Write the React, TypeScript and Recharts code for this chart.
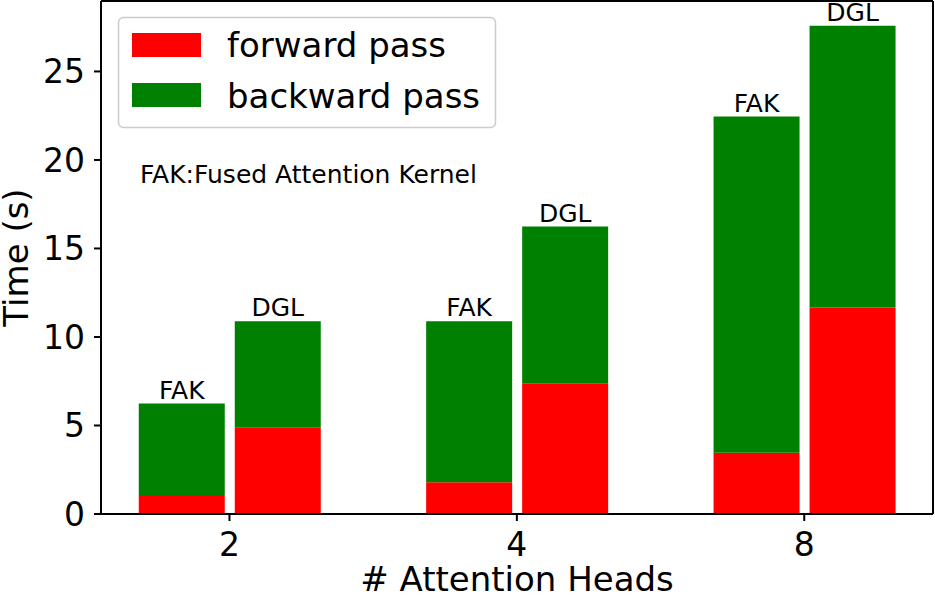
import React from "react";
import {
  BarChart,
  Bar,
  XAxis,
  YAxis,
  LabelList,
  ReferenceLine,
} from "recharts";

const heads = ["2", "4", "8"];
const fakForward = [1.02, 1.8, 3.46];
const fakBackward = [5.22, 9.09, 18.99];
const dglForward = [4.87, 7.39, 11.66];
const dglBackward = [6.02, 8.85, 15.92];
const yTicks = [0, 5, 10, 15, 20, 25];

const FONT = "'DejaVu Sans', sans-serif";
const RED = "#ff0000";
const GREEN = "#008000";
const X_DOMAIN: [number, number] = [-0.447, 2.448];
const Y_DOMAIN: [number, number] = [0, 28.98];

const data = heads.map((h, i) => ({
  x: i,
  heads: h,
  fakForward: fakForward[i],
  fakBackward: fakBackward[i],
  dglForward: dglForward[i],
  dglBackward: dglBackward[i],
}));

const W = 935;
const H = 599;

export default function App() {
  return (
    <div style={{ position: "absolute", left: 0, top: 0, width: W, height: H, background: "#fff" }}>
      <BarChart
        width={W}
        height={H}
        data={data}
        margin={{ top: 1, right: 2, left: 0, bottom: 0 }}
        barSize={86}
        barGap={10}
      >
        <XAxis
          dataKey="x"
          type="number"
          domain={X_DOMAIN}
          ticks={[0, 1, 2]}
          tickCount={3}
          allowDataOverflow
          tickFormatter={(v: number) => heads[v] ?? ""}
          height={85}
          stroke="#000"
          strokeWidth={2}
          tickSize={7}
          tickMargin={12}
          tick={{ fill: "#000", fontSize: 33, fontFamily: FONT }}
          label={{
            value: "# Attention Heads",
            position: "insideBottom",
            offset: 8,
            style: { fill: "#000", fontSize: 34, fontFamily: FONT },
          }}
        />
        <YAxis
          type="number"
          domain={Y_DOMAIN}
          ticks={yTicks}
          allowDataOverflow
          width={101}
          stroke="#000"
          strokeWidth={2}
          tickSize={7}
          tickMargin={9}
          tick={{ fill: "#000", fontSize: 33, fontFamily: FONT }}
          label={{
            value: "Time (s)",
            angle: -90,
            position: "insideLeft",
            offset: 16,
            style: { fill: "#000", fontSize: 34, fontFamily: FONT, textAnchor: "middle" },
          }}
        />
        {/* top and right spines */}
        <ReferenceLine y={Y_DOMAIN[1]} stroke="#000" strokeWidth={2} />
        <ReferenceLine x={X_DOMAIN[1]} stroke="#000" strokeWidth={2} />
        <Bar dataKey="fakForward" stackId="fak" fill={RED} isAnimationActive={false} />
        <Bar dataKey="fakBackward" stackId="fak" fill={GREEN} isAnimationActive={false}>
          <LabelList
            position="top"
            offset={5}
            formatter={() => "FAK"}
            style={{ fill: "#000", fontSize: 25, fontFamily: FONT }}
          />
        </Bar>
        <Bar dataKey="dglForward" stackId="dgl" fill={RED} isAnimationActive={false} />
        <Bar dataKey="dglBackward" stackId="dgl" fill={GREEN} isAnimationActive={false}>
          <LabelList
            position="top"
            offset={5}
            formatter={() => "DGL"}
            style={{ fill: "#000", fontSize: 25, fontFamily: FONT }}
          />
        </Bar>
      </BarChart>

      {/* legend + note drawn on top of the plot */}
      <svg
        width={W}
        height={H}
        style={{ position: "absolute", left: 0, top: 0, pointerEvents: "none" }}
      >
        <rect
          x={118.5}
          y={17.5}
          width={377}
          height={110}
          rx={5}
          fill="rgba(255,255,255,0.8)"
          stroke="#cccccc"
          strokeWidth={1.5}
        />
        <rect x={132} y={33} width={69} height={24} fill={RED} />
        <rect x={132} y={83} width={69} height={24} fill={GREEN} />
        <text x={227} y={57} fontSize={34} fontFamily={FONT} fill="#000">
          forward pass
        </text>
        <text x={227} y={107.5} fontSize={34} fontFamily={FONT} fill="#000">
          backward pass
        </text>
        <text x={140} y={183} fontSize={25} fontFamily={FONT} fill="#000">
          FAK:Fused Attention Kernel
        </text>
      </svg>
    </div>
  );
}
